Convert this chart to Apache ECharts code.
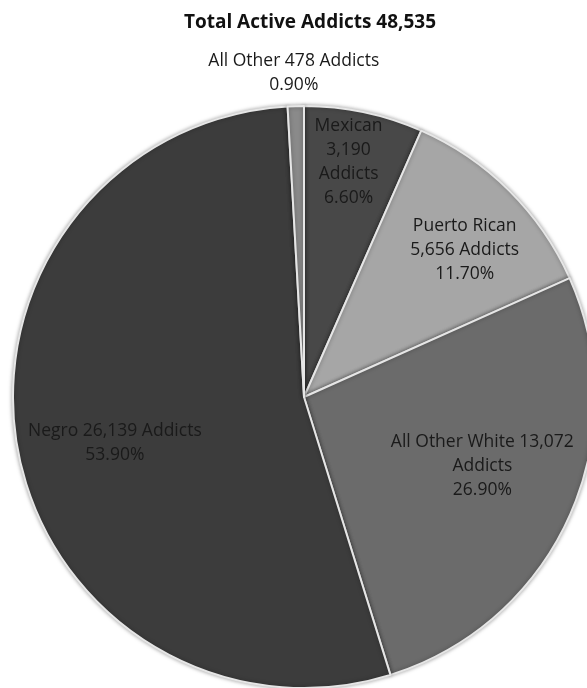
<!DOCTYPE html>
<html>
<head>
<meta charset="utf-8">
<script src="https://cdn.jsdelivr.net/npm/echarts@6/dist/echarts.min.js"></script>
<style>
html,body{margin:0;padding:0;background:#fff;}
#chart{width:587px;height:688px;}
</style>
</head>
<body>
<div id="chart"></div>
<script>
var titleText = 'Total Active Addicts 48,535';
var categories = ['Mexican', 'Puerto Rican', 'All Other White', 'Negro', 'All Other'];
var addicts = [3190, 5656, 13072, 26139, 478];
var percents = ['6.60%', '11.70%', '26.90%', '53.90%', '0.90%'];
var labelTexts = [
  'Mexican\n3,190\nAddicts\n6.60%',
  'Puerto Rican\n5,656 Addicts\n11.70%',
  'All Other White 13,072\nAddicts\n26.90%',
  'Negro 26,139 Addicts\n53.90%',
  'All Other 478 Addicts\n0.90%'
];
var sliceColors = ['#484848', '#a6a6a6', '#6b6b6b', '#3c3c3c', '#8a8a8a'];
// label shifts from the default inside spot
var labelShift = [[14, -90], [56, -42], [43, 8], [-43, 20], [-6, -176]];

var chart = echarts.init(document.getElementById('chart'));
var data = categories.map(function (c, i) {
  return {
    name: c,
    value: parseFloat(percents[i]),
    itemStyle: { color: sliceColors[i] },
    label: { formatter: labelTexts[i] }
  };
});
chart.setOption({
  animation: false,
  title: {
    text: titleText,
    left: 305,
    textAlign: 'center',
    top: 8,
    textStyle: { fontFamily: 'Open Sans', fontWeight: 'bold', fontSize: 19, color: '#111' }
  },
  series: [{
    type: 'pie',
    center: [304, 397],
    radius: 291,
    startAngle: 90,
    clockwise: true,
    data: data,
    itemStyle: { borderColor: '#e6e6e6', borderWidth: 2, shadowBlur: 4, shadowColor: 'rgba(0,0,0,0.35)' },
    label: {
      show: true,
      position: 'inside',
      fontFamily: 'Open Sans',
      fontSize: 17.5,
      lineHeight: 24,
      color: '#1a1a1a',
      align: 'center'
    },
    labelLine: { show: false },
    labelLayout: function (p) {
      var s = labelShift[p.dataIndex];
      return { dx: s[0], dy: s[1] };
    },
    emphasis: { disabled: true }
  }]
});
</script>
</body>
</html>
